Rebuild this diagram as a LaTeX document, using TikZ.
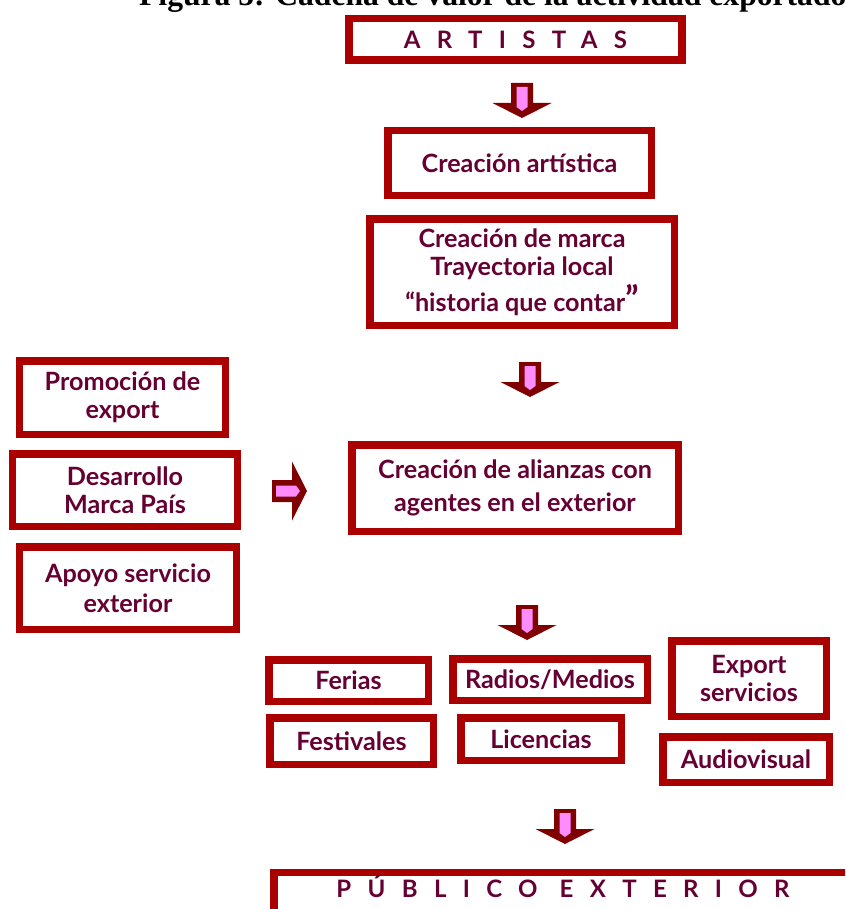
\documentclass[tikz,border=0pt]{standalone}
\usepackage{fontspec}
\setmainfont{Liberation Serif}
\newfontfamily\gillfont{Lato}
\usetikzlibrary{positioning,calc}

\definecolor{boxred}{RGB}{170,0,0}
\definecolor{ink}{RGB}{102,0,51}
\definecolor{arrowred}{RGB}{128,0,0}
\definecolor{arrowpink}{RGB}{255,140,255}

\begin{document}
\begin{tikzpicture}[
    x=0.3mm, y=-0.3mm,
    font=\gillfont\bfseries\fontsize{21.5}{24}\selectfont,
    stage/.style={
        draw=boxred, line width=2.25mm, fill=white, text=ink,
        align=center, inner sep=0pt},
    banner/.style={stage,
        font=\gillfont\bfseries\fontsize{20.5}{24}\selectfont\addfontfeature{LetterSpace=68}},
    caption/.style={font=\rmfamily\bfseries\fontsize{27}{30}\selectfont, text=black},
    blockarrow/.pic={
        \fill[arrowred] (-11,0) -- (11,0) -- (11,20) -- (29.5,20) -- (0,35)
            -- (-29.5,20) -- (-11,20) -- cycle;
        \fill[arrowpink] (-5.5,4) -- (5.5,4) -- (5.5,24) -- (0,28) -- (-5.5,24) -- cycle;
    },
]
\useasboundingbox (0,0) rectangle (845,909);
\clip (0,0) rectangle (845,909);

% ---- caption (cut at the top) ----
\node[caption, anchor=base west] (title) at (135,6)
    {Figura 5: Cadena de valor de la actividad exportadora};

% ---- main column ----
\node[banner, minimum width=100mm, minimum height=12.45mm] (artistas) at (515.5,39.5) {ARTISTAS};
\node[stage, minimum width=79.05mm, minimum height=19.35mm] (creart) at (519.5,163) {Creación artística};
\node[stage, minimum width=91.35mm, minimum height=31.95mm] (marca) at (522,272)
    {Creación de marca\\ Trayectoria local\\[3pt] “historia que contar{\fontsize{30}{24}\selectfont ”}};
\node[stage, minimum width=97.95mm, minimum height=25.95mm] (alianzas) at (515,488)
    {Creación de alianzas con\\[4pt] agentes en el exterior};

% ---- support (left column) ----
\node[stage, minimum width=61.65mm, minimum height=22.05mm] (promo) at (122.5,397.5) {Promoción de\\ export};
\node[stage, minimum width=67.35mm, minimum height=21.75mm] (pais) at (125,490) {Desarrollo\\ Marca País};
\node[stage, minimum width=64.95mm, minimum height=24.75mm] (apoyo) at (128,588) {Apoyo servicio\\[2pt] exterior};

% ---- channels ----
\node[stage, minimum width=47.85mm, minimum height=12.45mm] (ferias) at (348.5,680.5) {Ferias};
\node[stage, minimum width=58.35mm, minimum height=12.45mm] (radios) at (550,679.5) {Radios/Medios};
\node[stage, minimum width=46.35mm, minimum height=22.65mm] (expserv) at (749,678.5) {Export\\ servicios};
\node[stage, minimum width=49.05mm, minimum height=13.95mm] (festivales) at (351.5,741) {Festivales};
\node[stage, minimum width=48.15mm, minimum height=12.75mm] (licencias) at (541,739) {Licencias};
\node[stage, minimum width=49.95mm, minimum height=13.65mm] (audiovisual) at (746,759.5) {Audiovisual};

% ---- end (cut at the bottom) ----
\node[banner, anchor=north, minimum width=173.55mm, inner ysep=0.9mm, text depth=12mm]
    (publico) at (563,868.75) {PÚBLICO EXTERIOR};

% ---- block arrows ----
\pic at (522,83) {blockarrow};
\pic at (530,362) {blockarrow};
\pic[rotate=90] at (272,491) {blockarrow};
\pic at (527,605) {blockarrow};
\pic at (565,809) {blockarrow};

\end{tikzpicture}
\end{document}
